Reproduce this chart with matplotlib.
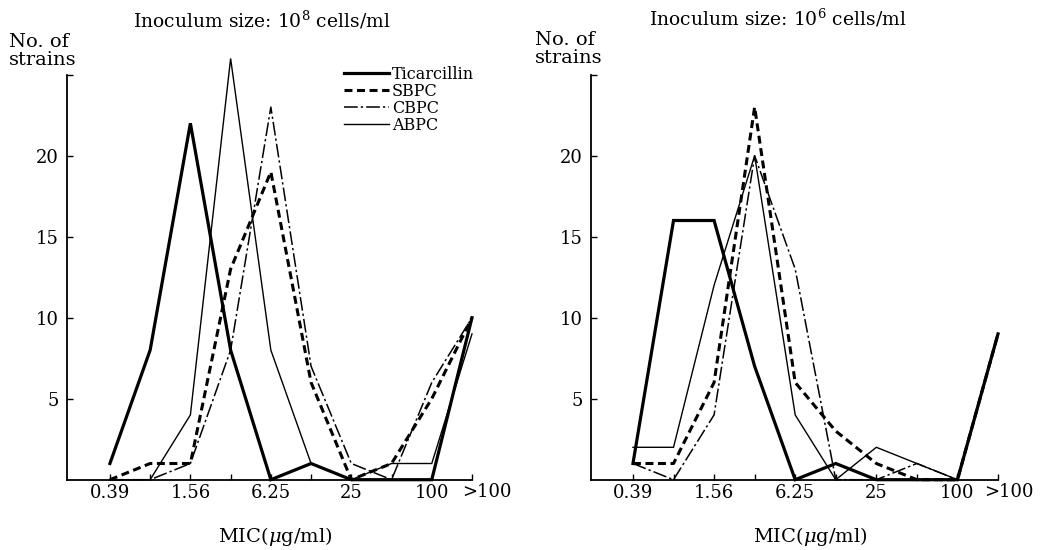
import numpy as np
import matplotlib
matplotlib.use("Agg")
import matplotlib.pyplot as plt
from matplotlib.lines import Line2D

plt.rcParams['font.family'] = ['DejaVu Serif']
plt.rcParams['mathtext.fontset'] = 'dejavuserif'

# MIC categories (ug/ml), one position per dilution step
mic = ["0.39", "0.78", "1.56", "3.13", "6.25", "12.5", "25", "50", "100", ">100"]
tick_labels = ["0.39", "", "1.56", "", "6.25", "", "25", "", "100", ""]

drugs = ["Ticarcillin", "SBPC", "CBPC", "ABPC"]

# inoculum 10^8 cells/ml
tic_8 = [1, 8, 22, 8, 0, 1, 0, 0, 0, 10]
sbpc_8 = [0, 1, 1, 13, 19, 6, 0, 1, 5, 10]
cbpc_8 = [0, 0, 1, 8, 23, 7, 1, 0, 6, 10]
abpc_8 = [0, 0, 4, 26, 8, 1, 0, 1, 1, 9]

# inoculum 10^6 cells/ml
tic_6 = [1, 16, 16, 7, 0, 1, 0, 0, 0, 9]
sbpc_6 = [1, 1, 6, 23, 6, 3, 1, 0, 0, 9]
cbpc_6 = [1, 0, 4, 20, 13, 0, 0, 1, 0, 9]
abpc_6 = [2, 2, 12, 20, 4, 0, 2, 1, 0, 9]

styles = [
    dict(color='black', lw=2.3, ls='-'),
    dict(color='black', lw=2.2, ls=(0, (2.6, 1.5))),
    dict(color='black', lw=1.1, ls=(0, (9, 2, 1.5, 2))),
    dict(color='black', lw=1.0, ls='-'),
]

W, H = 1041, 550
fig = plt.figure(figsize=(W / 100, H / 100), dpi=100)

px = 16.2        # pixels per strain
y0 = 479.7       # pixel row of zero
top = 27


def make_axes(x_spine, x_end, x_first, step):
    xmin = (x_spine - x_first) / step
    xmax = (x_end - x_first) / step
    ax = fig.add_axes([x_spine / W, (H - y0) / H, (x_end - x_spine) / W, top * px / H])
    ax.set_xlim(xmin, xmax)
    ax.set_ylim(0, top)
    return ax


ax1 = make_axes(67, 472, 110, 40.3)
ax2 = make_axes(591, 998, 633, 40.6)

x = np.arange(len(mic))
for ax, data, gt_x in [(ax1, [tic_8, sbpc_8, cbpc_8, abpc_8], 8.75),
                       (ax2, [tic_6, sbpc_6, cbpc_6, abpc_6], 8.65)]:
    for vals, st in zip(data, styles):
        ax.plot(x, vals, clip_on=False, solid_joinstyle='miter', **st)
    for s in ['top', 'right']:
        ax.spines[s].set_visible(False)
    ax.spines['left'].set_bounds(0, 25)
    ax.spines['left'].set_linewidth(1.3)
    ax.spines['bottom'].set_linewidth(1.3)
    ax.set_yticks([5, 10, 15, 20, 25])
    ax.set_yticklabels(["5", "10", "15", "20", ""])
    ax.set_xticks(x)
    ax.set_xticklabels(tick_labels)
    ax.tick_params(direction='in', length=4, width=1, labelsize=13, pad=6)
    ax.tick_params(axis='x', pad=3)
    ax.patch.set_visible(False)
    # ">100" sits a little to the right of its tick
    ax.annotate(mic[-1], xy=(gt_x, 0), xycoords='data', xytext=(0, -12),
                textcoords='offset pixels', ha='left', va='center',
                fontsize=13, annotation_clip=False)

fig.text(262 / W, 1 - 20 / H, "Inoculum size: $10^8$ cells/ml", ha='center', va='center', fontsize=13.5)
fig.text(778 / W, 1 - 18 / H, "Inoculum size: $10^6$ cells/ml", ha='center', va='center', fontsize=13.5)
fig.text(9 / W, 1 - 33 / H, "No. of\nstrains", ha='left', va='top', fontsize=14, linespacing=1.0)
fig.text(535 / W, 1 - 31 / H, "No. of\nstrains", ha='left', va='top', fontsize=14, linespacing=1.0)
fig.text(275 / W, 1 - 536 / H, r"MIC($\mu$g/ml)", ha='center', va='center', fontsize=14)
fig.text(810 / W, 1 - 536 / H, r"MIC($\mu$g/ml)", ha='center', va='center', fontsize=14)

handles = [Line2D([], [], **st) for st in styles]
fig.legend(handles, drugs, loc='upper left', bbox_to_anchor=(344 / W, 1 - 66 / H),
           frameon=False, fontsize=11.5, handlelength=2.8, handletextpad=0.2,
           labelspacing=0.0, borderpad=0, borderaxespad=0)

fig.savefig("out.png", dpi=100, facecolor='white')
